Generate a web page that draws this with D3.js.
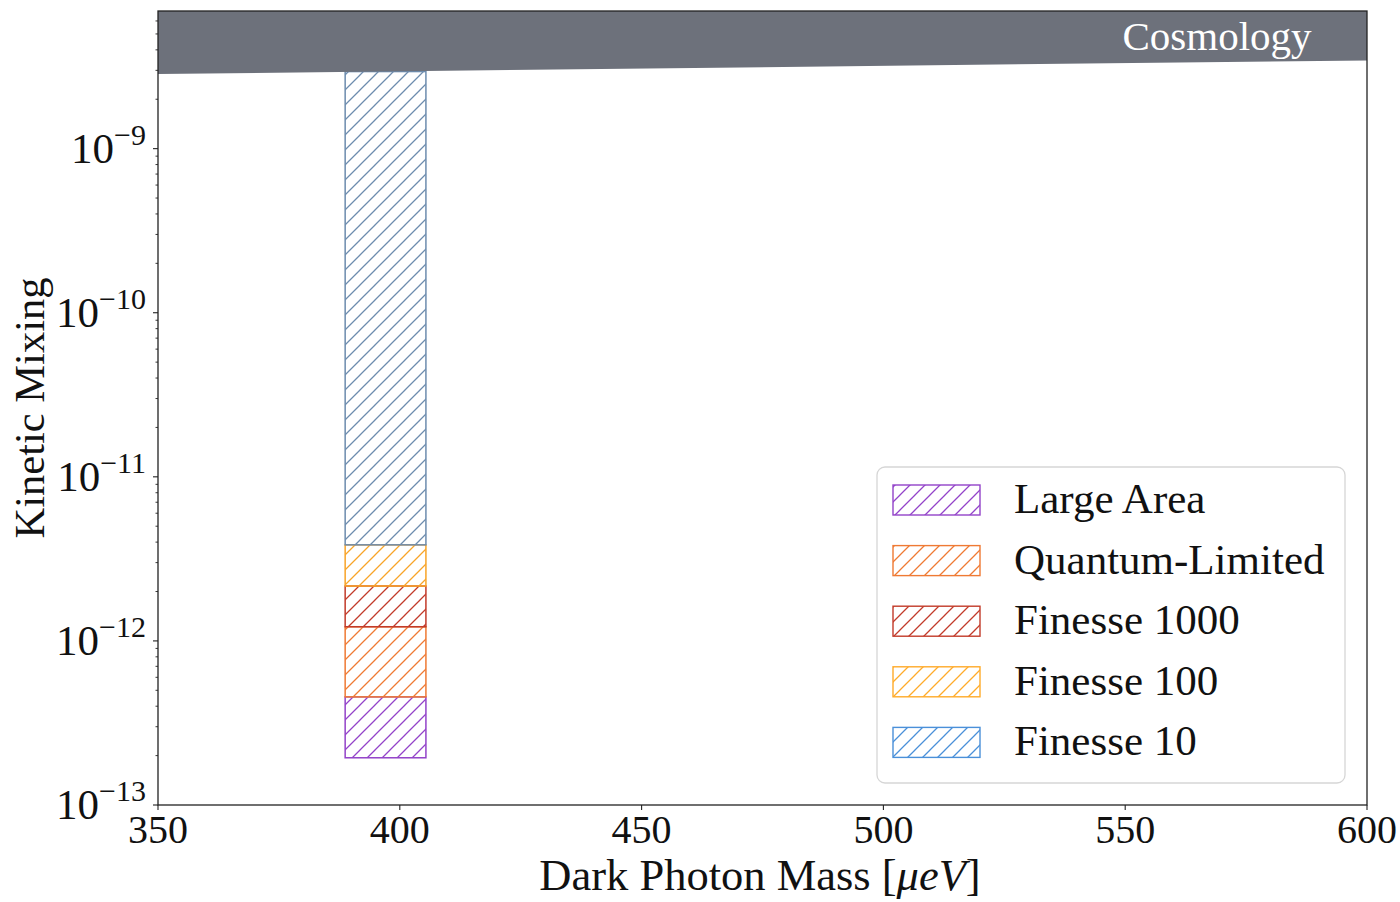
<!DOCTYPE html>
<html>
<head>
<meta charset="utf-8">
<script src="https://cdn.jsdelivr.net/npm/d3@7"></script>
<style>
  html, body { margin: 0; padding: 0; background: #fff; }
  svg { display: block; }
  text { font-family: "Liberation Serif", "DejaVu Serif", serif; fill: #111; }
</style>
</head>
<body>
<svg id="chart" width="1400" height="902"></svg>
<script>
// ---- data ----
const experiments = ["Large Area", "Quantum-Limited", "Finesse 1000", "Finesse 100", "Finesse 10"];
const lowerBounds = [1.94e-13, 4.56e-13, 1.22e-12, 2.16e-12, 3.85e-12];
const topBound = 2.95e-9;              // where the Finesse 10 region meets the cosmology bound
const massRange = [388.7, 405.4];      // µeV
const cosmoMass = [350, 600];
const cosmoEps = [2.85e-9, 3.45e-9];
const xTicks = [350, 400, 450, 500, 550, 600];
const yExponents = [-13, -12, -11, -10, -9];

// ---- styles ----
const legendColors = ["#9343c9", "#ef7a34", "#c23b2a", "#ffab2a", "#4a90d9"];
const barColors = ["#9343c9", "#ef7a34", "#c23b2a", "#f8a428", "#6d8cae"];

const svg = d3.select("#chart");
const m = { left: 158, right: 1367, top: 11, bottom: 805 };

const x = d3.scaleLinear().domain([350, 600]).range([m.left, m.right]);
const y = d3.scaleLog().domain([1e-13, 6.9e-9]).range([m.bottom, m.top]);

const defs = svg.append("defs");
function hatch(id, color) {
  const p = defs.append("pattern").attr("id", id)
    .attr("patternUnits", "userSpaceOnUse").attr("width", 15).attr("height", 15);
  p.append("path").attr("d", "M0,15 L15,0 M-3.75,3.75 L3.75,-3.75 M11.25,18.75 L18.75,11.25")
    .attr("stroke", color).attr("stroke-width", 1.3).attr("fill", "none");
}
legendColors.forEach((c, i) => hatch("hl" + i, c));
barColors.forEach((c, i) => hatch("hb" + i, c));

defs.append("clipPath").attr("id", "plotclip").append("rect")
  .attr("x", m.left).attr("y", m.top).attr("width", m.right - m.left).attr("height", m.bottom - m.top);

const plot = svg.append("g").attr("clip-path", "url(#plotclip)");

// bar segments
const segs = experiments.map((name, i) => ({
  name, i,
  lo: lowerBounds[i],
  hi: i < experiments.length - 1 ? lowerBounds[i + 1] : topBound
}));
plot.selectAll("rect.seg").data(segs).join("rect").attr("class", "seg")
  .attr("x", x(massRange[0])).attr("width", x(massRange[1]) - x(massRange[0]))
  .attr("y", d => y(d.hi)).attr("height", d => y(d.lo) - y(d.hi))
  .attr("fill", d => `url(#hb${d.i})`)
  .attr("stroke", d => barColors[d.i]).attr("stroke-width", 1.5);

// cosmology band
const cosmoPts = cosmoMass.map((mm, i) => [x(mm), y(cosmoEps[i])]);
const topY = y(y.domain()[1]);
const bandPath = d3.line()([
  [x(cosmoMass[0]), topY], [x(cosmoMass[1]), topY], cosmoPts[1], cosmoPts[0]
]) + "Z";
plot.append("path").attr("d", bandPath).attr("fill", "#6d717b");
svg.append("text").attr("x", 1217).attr("y", 50).attr("text-anchor", "middle")
  .attr("font-size", 41).style("fill", "#fff").text("Cosmology");

// frame
svg.append("rect").attr("x", m.left).attr("y", m.top)
  .attr("width", m.right - m.left).attr("height", m.bottom - m.top)
  .attr("fill", "none").attr("stroke", "#222").attr("stroke-width", 1.3);

// x axis
const xAxis = svg.append("g");
xAxis.selectAll("line").data(xTicks).join("line")
  .attr("x1", d => x(d)).attr("x2", d => x(d))
  .attr("y1", m.bottom).attr("y2", m.bottom + 5).attr("stroke", "#222").attr("stroke-width", 1.1);
xAxis.selectAll("text").data(xTicks).join("text")
  .attr("x", d => x(d)).attr("y", m.bottom + 38).attr("text-anchor", "middle")
  .attr("font-size", 40).text(d => d);

// y axis
const yAxis = svg.append("g");
const minors = [];
for (let e = -13; e <= -9; e++) for (let k = 2; k <= 9; k++) {
  const v = k * Math.pow(10, e);
  if (v <= y.domain()[1]) minors.push(v);
}
yAxis.selectAll("line.minor").data(minors).join("line").attr("class", "minor")
  .attr("x1", m.left - 2.5).attr("x2", m.left)
  .attr("y1", d => y(d)).attr("y2", d => y(d)).attr("stroke", "#222").attr("stroke-width", 0.9);
yAxis.selectAll("line.major").data(yExponents).join("line").attr("class", "major")
  .attr("x1", m.left - 5).attr("x2", m.left)
  .attr("y1", d => y(Math.pow(10, d))).attr("y2", d => y(Math.pow(10, d)))
  .attr("stroke", "#222").attr("stroke-width", 1.1);
const yl = yAxis.selectAll("text").data(yExponents).join("text")
  .attr("x", m.left - 12).attr("y", d => y(Math.pow(10, d)) + 14)
  .attr("text-anchor", "end").attr("font-size", 43);
yl.append("tspan").text("10");
yl.append("tspan").attr("font-size", 30).attr("dy", -18).text(d => "\u2212" + Math.abs(d));

// axis labels
const xl = svg.append("text").attr("x", 760).attr("y", 890).attr("text-anchor", "middle").attr("font-size", 44.5);
xl.append("tspan").text("Dark Photon Mass [");
xl.append("tspan").attr("font-style", "italic").text("\u03bceV");
xl.append("tspan").text("]");
svg.append("text").attr("transform", "translate(44,408) rotate(-90)")
  .attr("text-anchor", "middle").attr("font-size", 42.5).text("Kinetic Mixing");

// legend
const lg = svg.append("g");
lg.append("rect").attr("x", 877).attr("y", 467).attr("width", 468).attr("height", 316)
  .attr("rx", 8).attr("fill", "#fff").attr("fill-opacity", 0.85)
  .attr("stroke", "#d6d6d6").attr("stroke-width", 1.3);
const rowY = i => 500 + i * 60.6;
lg.selectAll("rect.patch").data(experiments).join("rect").attr("class", "patch")
  .attr("x", 893).attr("y", (d, i) => rowY(i) - 15).attr("width", 87).attr("height", 30)
  .attr("fill", (d, i) => `url(#hl${i})`).attr("stroke", (d, i) => legendColors[i]).attr("stroke-width", 1.4);
lg.selectAll("text").data(experiments).join("text")
  .attr("x", 1014).attr("y", (d, i) => rowY(i) + 13).attr("font-size", 43).text(d => d);
</script>
</body>
</html>
